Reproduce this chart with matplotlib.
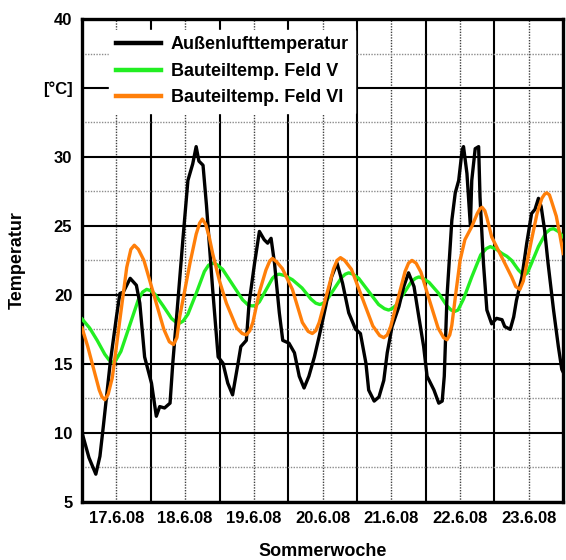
import matplotlib
matplotlib.use("Agg")
import matplotlib.pyplot as plt
from matplotlib.ticker import MultipleLocator, FixedLocator

plt.rcParams['font.family'] = ['Liberation Sans', 'DejaVu Sans']
plt.rcParams['font.weight'] = 'bold'

# Zeit in Tagen ab 16.6.08 12:00
aussen_x = [0.00, 0.10, 0.20, 0.26, 0.31, 0.41, 0.50, 0.55, 0.60, 0.70, 0.79, 0.84, 0.91, 1.01,
            1.08, 1.13, 1.20, 1.28, 1.32, 1.40, 1.47, 1.54, 1.61, 1.66, 1.70, 1.76, 1.81, 1.90,
            1.98, 2.05, 2.12, 2.19, 2.27, 2.31, 2.39, 2.43, 2.51, 2.58, 2.65, 2.70, 2.75, 2.80,
            2.87, 2.92, 3.01, 3.09, 3.16, 3.23, 3.30, 3.38, 3.45, 3.55, 3.63, 3.71, 3.79, 3.88,
            3.98, 4.05, 4.13, 4.17, 4.25, 4.32, 4.39, 4.44, 4.51, 4.61, 4.68, 4.75, 4.83, 4.90,
            4.97, 5.02, 5.12, 5.19, 5.24, 5.27, 5.31, 5.38, 5.43, 5.48, 5.53, 5.55, 5.60, 5.65,
            5.67, 5.72, 5.77, 5.79, 5.84, 5.89, 5.96, 6.03, 6.11, 6.15, 6.23, 6.28, 6.32, 6.40,
            6.47, 6.54, 6.59, 6.64, 6.68, 6.73, 6.78, 6.86, 6.93, 6.98, 7.00]
aussen_y = [10.0, 8.2, 7.0, 8.3, 10.5, 15.1, 18.4, 20.1, 20.2, 21.2, 20.7, 19.4, 15.5, 13.6,
            11.2, 11.9, 11.8, 12.15, 15.05, 19.9, 24.2, 28.3, 29.5, 30.75, 29.7, 29.4, 26.5, 20.4,
            15.5, 15.05, 13.6, 12.75, 15.05, 16.25, 16.7, 19.4, 22.3, 24.6, 24.0, 23.75, 24.1, 22.3,
            18.7, 16.7, 16.5, 15.8, 14.1, 13.25, 14.1, 15.5, 17.0, 19.3, 21.3, 22.3, 20.85, 18.7,
            17.5, 17.2, 15.05, 13.1, 12.3, 12.6, 13.8, 15.8, 17.7, 19.15, 20.6, 21.6, 20.6, 18.4,
            16.25, 14.1, 13.1, 12.15, 12.3, 14.1, 19.9, 25.4, 27.4, 28.3, 30.5, 30.75, 28.8, 25.0,
            28.3, 30.6, 30.75, 27.1, 22.3, 18.9, 17.9, 18.3, 18.2, 17.7, 17.5, 18.4, 19.6, 21.3,
            23.75, 25.9, 26.2, 27.0, 26.4, 24.7, 22.3, 18.9, 16.25, 14.6, 14.4]

feld5_x = [0.00, 0.11, 0.22, 0.33, 0.39, 0.44, 0.49, 0.565, 0.69, 0.815, 0.88, 0.94, 1.00,
           1.06, 1.18, 1.30, 1.37, 1.42, 1.47, 1.54, 1.66, 1.78, 1.84, 1.90, 1.96, 2.045, 2.19,
           2.335, 2.42, 2.48, 2.53, 2.58, 2.675, 2.77, 2.82, 2.87, 2.95, 3.06, 3.20, 3.33, 3.40,
           3.46, 3.51, 3.565, 3.67, 3.775, 3.83, 3.88, 3.94, 4.025, 4.17, 4.315, 4.40, 4.46,
           4.51, 4.57, 4.68, 4.79, 4.85, 4.90, 4.96, 5.05, 5.19, 5.31, 5.37, 5.42, 5.47, 5.55,
           5.67, 5.80, 5.88, 5.94, 6.03, 6.11, 6.18, 6.25, 6.35, 6.40, 6.44, 6.48, 6.54, 6.64,
           6.75, 6.81, 6.86, 6.93, 7.00]
feld5_y = [18.25, 17.6, 16.7, 15.7, 15.3, 15.1, 15.25, 15.9, 17.75, 19.6, 20.2, 20.4, 20.3,
           20.05, 19.2, 18.3, 18.0, 17.95, 18.1, 18.6, 20.1, 21.7, 22.15, 22.3, 22.2, 21.85, 20.75,
           19.65, 19.25, 19.2, 19.25, 19.5, 20.35, 21.2, 21.45, 21.5, 21.4, 21.1, 20.5, 19.7, 19.4,
           19.3, 19.4, 19.65, 20.45, 21.25, 21.5, 21.6, 21.5, 21.2, 20.25, 19.3, 19.0, 18.9,
           19.0, 19.25, 20.1, 20.95, 21.2, 21.3, 21.2, 20.9, 20.1, 19.2, 18.9, 18.8, 18.9, 19.7,
           21.3, 22.9, 23.35, 23.5, 23.3, 23.0, 22.8, 22.5, 21.8, 21.55, 21.45, 21.6, 22.3, 23.5,
           24.5, 24.75, 24.8, 24.6, 24.2]

feld6_x = [0.00, 0.08, 0.17, 0.25, 0.29, 0.33, 0.38, 0.44, 0.545, 0.65, 0.71, 0.76, 0.82,
           0.90, 1.045, 1.19, 1.27, 1.33, 1.38, 1.42, 1.57, 1.66, 1.71, 1.75, 1.80, 1.85, 1.90,
           2.00, 2.10, 2.25, 2.33, 2.39, 2.44, 2.485, 2.58, 2.675, 2.73, 2.77, 2.83, 2.915, 3.06,
           3.205, 3.29, 3.35, 3.40, 3.45, 3.555, 3.66, 3.71, 3.76, 3.82, 3.92, 4.075, 4.23, 4.33,
           4.39, 4.44, 4.49, 4.595, 4.70, 4.75, 4.80, 4.86, 4.93, 5.055, 5.18, 5.26, 5.31, 5.35,
           5.38, 5.44, 5.50, 5.57, 5.67, 5.75, 5.79, 5.82, 5.86, 5.89, 5.96, 6.05, 6.15, 6.25,
           6.31, 6.37, 6.42, 6.48, 6.54, 6.62, 6.69, 6.73, 6.76, 6.80, 6.83, 6.90, 6.95, 7.00]
feld6_y = [17.6, 16.3, 14.6, 13.1, 12.6, 12.4, 12.8, 14.0, 18.0, 22.0, 23.3, 23.6, 23.3,
           22.5, 20.0, 17.5, 16.6, 16.4, 16.9, 18.4, 22.3, 24.4, 25.2, 25.5, 25.1, 24.2, 23.0,
           21.0, 19.4, 17.6, 17.2, 17.1, 17.4, 18.0, 20.2, 21.8, 22.45, 22.65, 22.4, 21.9, 20.4,
           18.0, 17.35, 17.2, 17.4, 18.0, 19.95, 21.9, 22.5, 22.7, 22.5, 21.85, 19.8, 17.75, 17.05,
           16.9, 17.1, 17.7, 19.7, 21.7, 22.3, 22.5, 22.3, 21.65, 19.6, 17.6, 16.9, 16.75, 17.1,
           17.8, 20.2, 22.5, 24.0, 24.95, 25.9, 26.25, 26.35, 26.1, 25.6, 24.2, 23.3, 22.3, 21.3,
           20.6, 20.4, 21.0, 22.5, 24.0, 25.9, 27.0, 27.3, 27.4, 27.25, 26.8, 25.7, 24.4, 23.0]

tag_pos = [0.5, 1.5, 2.5, 3.5, 4.5, 5.5, 6.5]
tag_labels = ['17.6.08', '18.6.08', '19.6.08', '20.6.08', '21.6.08', '22.6.08', '23.6.08']
y_pos = [5, 10, 15, 20, 25, 30, 35, 40]
y_labels = ['5', '10', '15', '20', '25', '30', '[°C]', '40']

fig = plt.figure(figsize=(5.66, 5.60), dpi=100)
ax = fig.add_axes([0.145, 0.104, 0.850, 0.862])

ax.plot(aussen_x, aussen_y, c='black', lw=2.4, label='Außenlufttemperatur', zorder=4)
ax.plot(feld5_x, feld5_y, c='#22ee22', lw=2.4, label='Bauteiltemp. Feld V', zorder=3)
ax.plot(feld6_x, feld6_y, c='#ff7f0a', lw=2.4, label='Bauteiltemp. Feld VI', zorder=5)

ax.set_xlim(0, 7)
ax.set_ylim(5, 40)

ax.set_xticks(tag_pos)
ax.set_xticklabels(tag_labels)
ax.xaxis.set_minor_locator(FixedLocator([1, 2, 3, 4, 5, 6]))
ax.set_yticks(y_pos)
ax.set_yticklabels(y_labels)
ax.yaxis.set_minor_locator(MultipleLocator(2.5))

ax.tick_params(which='both', length=0)
ax.tick_params(axis='x', pad=7, labelsize=12)
ax.tick_params(axis='y', pad=7, labelsize=12)

ax.grid(which='major', axis='x', color='0.25', linestyle=(0, (1, 1)), lw=1.0)
ax.grid(which='minor', axis='x', color='black', linestyle='-', lw=1.5)
ax.grid(which='major', axis='y', color='black', linestyle='-', lw=1.5)
ax.grid(which='minor', axis='y', color='0.55', linestyle=(0, (1, 1)), lw=1.0)
ax.set_axisbelow(True)

for s in ax.spines.values():
    s.set_linewidth(2.4)

ax.set_xlabel('Sommerwoche', fontsize=13, fontweight='bold')
ax.set_ylabel('Temperatur', fontsize=13, fontweight='bold')
ax.xaxis.set_label_coords(0.5, -0.085)
ax.yaxis.set_label_coords(-0.118, 0.5)

leg = ax.legend(loc='upper left', bbox_to_anchor=(0.057, 0.977), borderaxespad=0,
                frameon=True, fancybox=False, framealpha=1, edgecolor='white',
                prop={'size': 13, 'weight': 'bold'}, handlelength=2.5,
                handletextpad=0.55, labelspacing=0.52, borderpad=0.35)
for h in leg.get_lines():
    h.set_linewidth(3.2)
leg.set_zorder(10)

fig.savefig('out.png', dpi=100)
